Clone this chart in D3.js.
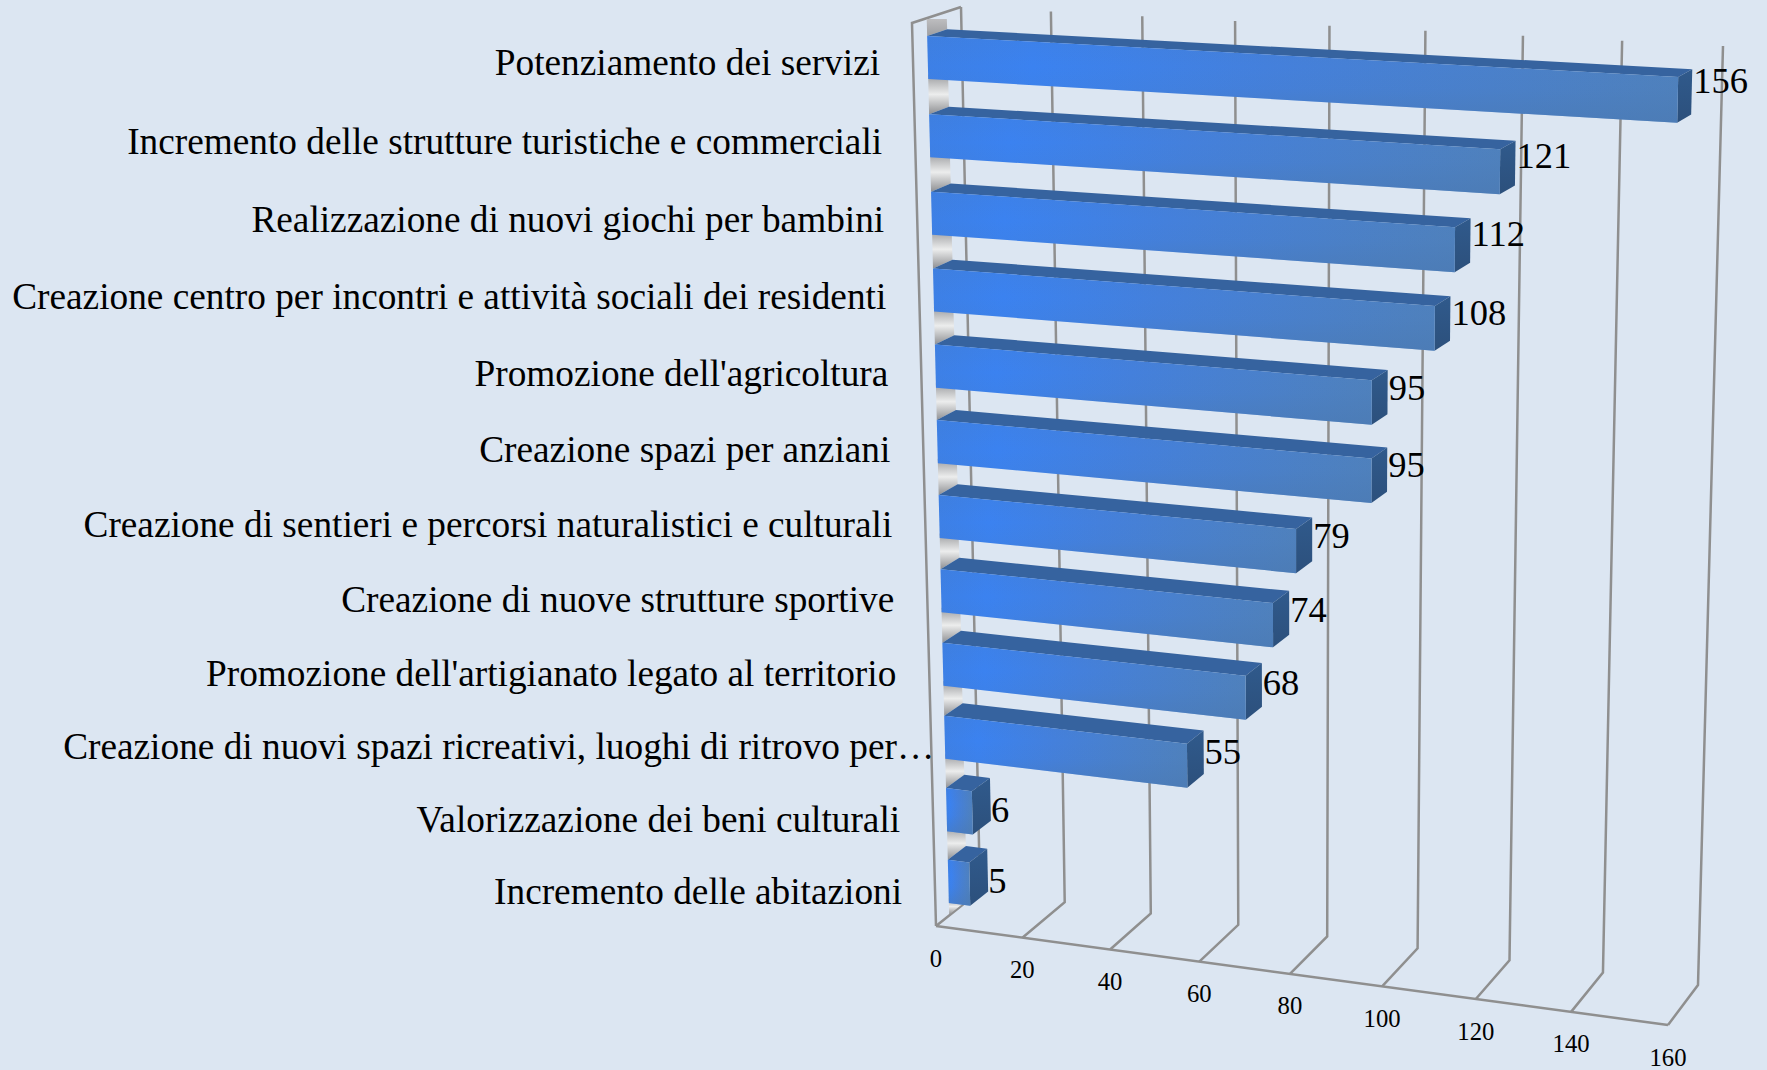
<!DOCTYPE html>
<html><head><meta charset="utf-8">
<script src="https://cdnjs.cloudflare.com/ajax/libs/d3/7.8.5/d3.min.js"></script>
<style>html,body{margin:0;padding:0;background:#dce6f2;overflow:hidden}svg{display:block}text{font-family:"Liberation Serif",serif;fill:#000}</style>
</head><body><svg id="c" width="1767" height="1070"></svg>
<script>
const categories = ["Potenziamento dei servizi","Incremento delle strutture turistiche e commerciali","Realizzazione di nuovi giochi per bambini","Creazione centro per incontri e attività sociali dei residenti","Promozione dell'agricoltura","Creazione spazi per anziani","Creazione di sentieri e percorsi naturalistici e culturali","Creazione di nuove strutture sportive","Promozione dell'artigianato legato al territorio","Creazione di nuovi spazi ricreativi, luoghi di ritrovo per…","Valorizzazione dei beni culturali","Incremento delle abitazioni"];
const values = [156,121,112,108,95,95,79,74,68,55,6,5];
const tickValues = [0,20,40,60,80,100,120,140,160];

// Box of the 3D chart on screen: [value axis, category axis, depth] corners
const corners = {
  "000":[912,23], "010":[936,926], "110":[1668,1025], "100":[1689,65],
  "001":[961,7],  "011":[980,891], "111":[1698,985],  "101":[1723,46]
};
const persp = (k)=> (t)=> t/(1+k*(1-t));
const uWarp = persp(0.068), vWarp = persp(-0.046);
const x = d3.scaleLinear().domain([0,160]).range([0,1]);
const row = d3.scaleLinear().domain([0,categories.length-1]).range([0,1]);
const rowV = d3.scaleLinear().domain([0,1]).range([0.0198,0.938]);
const labelDy = d3.scaleLinear().domain([5,55,100,156]).range([10,-1,-5.5,-11]);
const barH = 0.048, wFront = 0.30, wBack = 0.71;

function P(value,v,w){
  const u = uWarp(x(value));
  const lerp = (a,b,t)=>[a[0]+(b[0]-a[0])*t, a[1]+(b[1]-a[1])*t];
  const f = lerp(lerp(corners["000"],corners["100"],u), lerp(corners["010"],corners["110"],u), v);
  const b = lerp(lerp(corners["001"],corners["101"],u), lerp(corners["011"],corners["111"],u), v);
  return lerp(f,b,w);
}
const top_ = i => rowV(vWarp(row(i)));
const svg = d3.select("#c");
const line = d3.line();
const defs = svg.append("defs");

// gradients
function grad(id,horizontal,stops){
  const g = defs.append("linearGradient").attr("id",id).attr("x1",0).attr("y1",0)
    .attr("x2",horizontal?1:0).attr("y2",horizontal?0:1);
  stops.forEach(s=>g.append("stop").attr("offset",s[0]).attr("stop-color",s[1]).attr("stop-opacity",s[2]===undefined?1:s[2]));
}
grad("front",true,[[0,"#3d80e6"],[.14,"#3b82f0"],[.45,"#4480dc"],[1,"#4f81bd"]]);
grad("shade",false,[[0,"#4a78b0",.12],[.35,"#4a78b0",0],[.6,"#4a78b0",.08],[1,"#4a78b0",.55]]);
grad("silver",false,[[0,"#9a9b9e"],[.5,"#eceded"],[1,"#8f9093"]]);
grad("silverTop",false,[[0,"#bdbdbf"],[1,"#9d9ea1"]]);
grad("side",false,[[0,"#305a8c"],[1,"#2c507c"]]);

// frame and gridlines
const grid = svg.append("g").attr("fill","none").attr("stroke","#8f8f8f").attr("stroke-width",2.5);
tickValues.forEach(t=>{
  grid.append("path").attr("d",line([P(t,0,1),P(t,1,1),P(t,1,0)]));
});
grid.append("path").attr("d",line([P(0,1,0),P(0,0,0),P(0,0,1)]));
grid.append("path").attr("d",line([P(0,1,0),P(160,1,0)]));

// silver connector strips behind the bars
const strips = svg.append("g");
const n = categories.length;
const spans = d3.range(n+1).map(i=>[i===0?0.001:top_(i-1)+barH-0.005, i===n?top_(n-1)+barH+0.013:top_(i)]);
spans.forEach((s,i)=>{
  const yTop = P(0,s[0],wFront)[1];
  strips.append("path").attr("fill",i===0?"url(#silverTop)":"url(#silver)")
    .attr("d",line([[P(0,s[0],wFront)[0],yTop],[P(0,s[0],wBack)[0],yTop],P(0,s[1],wBack),P(0,s[1],wFront)])+"Z");
});

// bars
const bars = svg.append("g");
values.forEach((val,i)=>{
  const t=top_(i), b=t+barH;
  bars.append("path").attr("fill","#36639f")
    .attr("d",line([P(0,t,wFront),P(0,t,wBack),P(val,t,wBack),P(val,t,wFront)])+"Z");
  bars.append("path").attr("fill","url(#side)")
    .attr("d",line([P(val,t,wFront),P(val,t,wBack),P(val,b,wBack),P(val,b,wFront)])+"Z");
  const d=line([P(0,t,wFront),P(val,t,wFront),P(val,b,wFront),P(0,b,wFront)])+"Z";
  bars.append("path").attr("fill","url(#front)").attr("d",d);
  bars.append("path").attr("fill","url(#shade)").attr("d",d);
});

// category labels
svg.append("g").selectAll("text").data(categories).join("text")
  .attr("font-size",37.3).attr("text-anchor","end").attr("dominant-baseline","central")
  .attr("x",(d,i)=>P(0,top_(i)+barH/2,0)[0]-33+(d.endsWith("…")?36:0))
  .attr("y",(d,i)=>P(0,top_(i)+barH/2,0)[1])
  .text(d=>d);

// value labels
svg.append("g").selectAll("text").data(values).join("text")
  .attr("font-size",36.5).attr("dominant-baseline","central")
  .attr("x",(d,i)=>P(d,top_(i),wBack)[0]+1)
  .attr("y",(d,i)=>P(d,top_(i)+barH/2,wBack)[1]+labelDy(d))
  .text(d=>d);

// axis labels
svg.append("g").selectAll("text").data(tickValues).join("text")
  .attr("font-size",24.7).attr("text-anchor","middle").attr("dominant-baseline","central")
  .attr("x",d=>P(d,1,0)[0]).attr("y",d=>P(d,1,0)[1]+32)
  .text(d=>d);
</script></body></html>
